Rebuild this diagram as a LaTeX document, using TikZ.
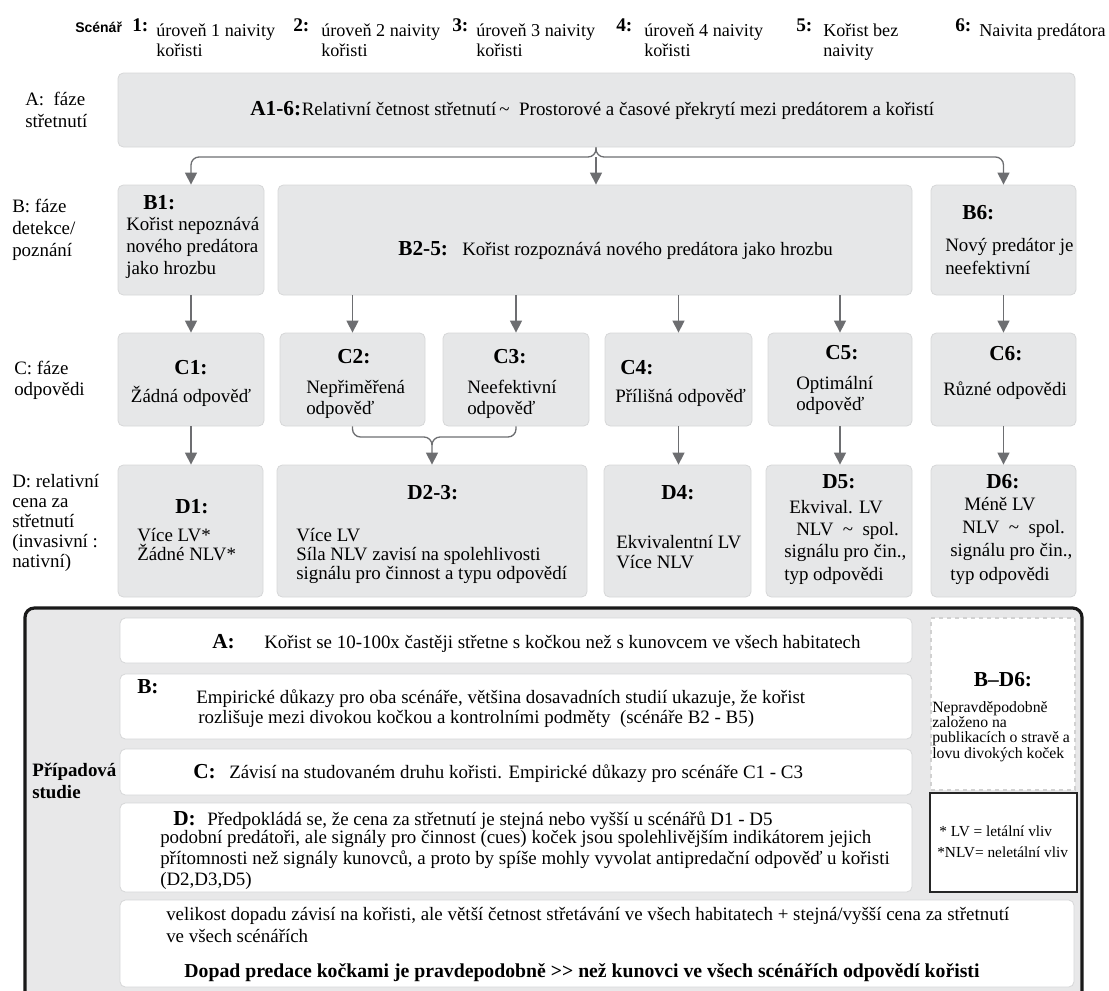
\documentclass[tikz,border=0pt]{standalone}
\usepackage{fontspec}
\setmainfont{Liberation Serif}
\newfontfamily\scensans{Liberation Sans}
\usetikzlibrary{arrows.meta}
\usetikzlibrary{fit}
\definecolor{boxgray}{HTML}{E6E7E8}
\definecolor{boxline}{HTML}{D6D7D8}
\definecolor{arrgray}{HTML}{6D6E71}
\definecolor{panelgray}{HTML}{E8E8E9}
\tikzset{phase/.style = {fill=boxgray, draw=boxline, line width=0.6pt, rounded corners=4, inner sep=0}}
\tikzset{casebox/.style = {fill=white, draw=boxline, line width=0.6pt, rounded corners=4, inner sep=0}}
\tikzset{panel/.style = {fill=panelgray, draw=black!90, line width=2.4pt, rounded corners=7, inner sep=0}}
\tikzset{arr/.style = {draw=arrgray, line width=1pt, -{Triangle[width=9pt, length=9pt]}}}
\tikzset{txt/.style = {anchor=base west, inner sep=0, align=left, font=\fontsize{14.2}{16.5}\selectfont}}
\tikzset{head/.style = {anchor=base west, inner sep=0, align=left, font=\fontsize{13.6}{15}\selectfont}}
\tikzset{tag/.style = {anchor=base west, inner sep=0, font=\fontsize{16}{18}\selectfont\bfseries}}
\tikzset{num/.style = {anchor=base west, inner sep=0, font=\fontsize{14.5}{16}\selectfont\bfseries}}

\begin{document}
\begin{tikzpicture}[x=0.75pt, y=-0.75pt]
      \useasboundingbox (0,0) rectangle (1109,990);

      \node [anchor=base west, inner sep=0, font=\scensans\bfseries\fontsize{10.5}{12}\selectfont] (scen) at (75,32) {Scénář};
      \node [num] (n1) at (132,31) {1:};
      \node [head] (s1) at (156,56) {úroveň 1 naivity\\kořisti};
      \node [num] (n2) at (293,31) {2:};
      \node [head] (s2) at (321,56) {úroveň 2 naivity\\kořisti};
      \node [num] (n3) at (452,31) {3:};
      \node [head] (s3) at (476,56) {úroveň 3 naivity\\kořisti};
      \node [num] (n4) at (616,31) {4:};
      \node [head] (s4) at (644,56) {úroveň 4 naivity\\kořisti};
      \node [num] (n5) at (796,31) {5:};
      \node [head] (s5) at (823,56) {Kořist bez\\naivity};
      \node [num] (n6) at (955,31) {6:};
      \node [head] (s6) at (979,36) {Naivita predátora};

      \node [txt] (lA) at (25,127) {A:\ \ fáze\\střetnutí};
      \node [txt] (lB) at (12,256) {B: fáze\\detekce/\\poznání};
      \node [txt, font=\fontsize{14.2}{15.75}\selectfont] (lC) at (14,395) {C: fáze\\odpovědi};
      \node [txt, font=\fontsize{14.2}{15}\selectfont] (lD) at (12,567) {D: relativní\\cena za\\střetnutí\\(invasivní :\\nativní)};

      \node [phase, fit={(118,73) (1075,147)}] (A) {};
      \node [phase, fit={(118,185) (264,295)}] (B1) {};
      \node [phase, fit={(278,185) (912,295)}] (B25) {};
      \node [phase, fit={(931,185) (1076,295)}] (B6) {};
      \node [phase, fit={(118,333) (264,426)}] (C1) {};
      \node [phase, fit={(280,333) (425,426)}] (C2) {};
      \node [phase, fit={(443,333) (589,426)}] (C3) {};
      \node [phase, fit={(605,333) (752,426)}] (C4) {};
      \node [phase, fit={(768,333) (912,426)}] (C5) {};
      \node [phase, fit={(931,333) (1076,426)}] (C6) {};
      \node [phase, fit={(118,465) (263,597)}] (D1) {};
      \node [phase, fit={(277,465) (587,597)}] (D23) {};
      \node [phase, fit={(604,465) (751,597)}] (D4) {};
      \node [phase, fit={(766,465) (912,597)}] (D5) {};
      \node [phase, fit={(931,465) (1076,597)}] (D6) {};

      \node [tag] (tA0) at (250,115) {A1-6:};
      \node [txt] (tA) at (tA0.base east) {Relativní četnost střetnutí\,\textasciitilde\ \ Prostorové a časové překrytí mezi predátorem a kořistí};

      \node [tag] (tB10) at (143,209) {B1:};
      \node [txt, font=\fontsize{14.2}{16.2}\selectfont] (tB1) at (126,274) {Kořist nepoznává\\nového predátora\\jako hrozbu};
      \node [tag] (tB250) at (398,255) {B2-5:};
      \node [txt] (tB25) at (462,255) {Kořist rozpoznává nového predátora jako hrozbu};
      \node [tag] (tB60) at (962,219) {B6:};
      \node [txt, font=\fontsize{14.2}{17.25}\selectfont] (tB6) at (945,274) {Nový predátor je\\neefektivní};

      \node [tag, anchor=base] (tC10) at (191,374) {C1:};
      \node [txt, anchor=base] (tC1) at (191,402) {Žádná odpověď};
      \node [tag] (tC20) at (337,363) {C2:};
      \node [txt, font=\fontsize{14.2}{15.75}\selectfont] (tC2) at (306,414) {Nepřiměřená\\odpověď};
      \node [tag] (tC30) at (493,363) {C3:};
      \node [txt, font=\fontsize{14.2}{15.75}\selectfont] (tC3) at (467,414) {Neefektivní\\odpověď};
      \node [tag] (tC40) at (620,374) {C4:};
      \node [txt] (tC4) at (615,402) {Přílišná odpověď};
      \node [tag] (tC50) at (825,359) {C5:};
      \node [txt, font=\fontsize{14.2}{15.75}\selectfont] (tC5) at (796,410) {Optimální\\odpověď};
      \node [tag] (tC60) at (989,360) {C6:};
      \node [txt] (tC6) at (943,395) {Různé odpovědi};

      \node [tag] (tD10) at (175,513) {D1:};
      \node [txt, font=\fontsize{14.2}{14.2}\selectfont] (tD1) at (137,560) {Více LV*\\Žádné NLV*};
      \node [tag] (tD230) at (407,499) {D2-3:};
      \node [txt, font=\fontsize{14.2}{14}\selectfont] (tD23) at (296,579) {Více LV\\Síla NLV zavisí na spolehlivosti\\signálu pro činnost a typu odpovědí};
      \node [tag] (tD40) at (661,499) {D4:};
      \node [txt, font=\fontsize{14.2}{15}\selectfont] (tD4) at (616,568) {Ekvivalentní LV\\Více NLV};
      \node [tag] (tD50) at (822,488) {D5:};
      \node [txt, font=\fontsize{14.2}{16.7}\selectfont] (tD5) at (784,580) {\hspace*{3.75pt}Ekvival. LV\\\hspace*{9pt}NLV\ \ \textasciitilde\ \ spol.\\signálu pro čin.,\\typ odpovědi};
      \node [tag] (tD60) at (986,488) {D6:};
      \node [txt, font=\fontsize{14.2}{17.5}\selectfont] (tD6) at (950,580) {\hspace*{10.5pt}Méně LV\\\hspace*{9pt}NLV\ \ \textasciitilde\ \ spol.\\signálu pro čin.,\\typ odpovědi};

      \coordinate (Ahub) at (596,157);
      \coordinate (Chub) at (432,437);
      \draw [arr, rounded corners=6] (A.south -| Ahub) -- (Ahub) -| (B1.north);
      \draw [arr, rounded corners=6] (A.south -| Ahub) -- (Ahub) -| (B6.north);
      \draw [arr] (Ahub) -- (Ahub |- B25.north);
      \draw [arr] (B1.south) -- (C1.north);
      \draw [arr] (B25.south -| C2.north) -- (C2.north);
      \draw [arr] (B25.south -| C3.north) -- (C3.north);
      \draw [arr] (B25.south -| C4.north) -- (C4.north);
      \draw [arr] (B25.south -| C5.north) -- (C5.north);
      \draw [arr] (B6.south) -- (C6.north);
      \draw [arr] (C1.south) -- (C1.south |- D1.north);
      \draw [arr, rounded corners=6] (C2.south) |- (Chub) -- (Chub |- D23.north);
      \draw [arr, -, rounded corners=6] (C3.south) |- (Chub) -- ++(0,8);
      \draw [arr] (C4.south) -- (C4.south |- D4.north);
      \draw [arr] (C5.south) -- (C5.south |- D5.north);
      \draw [arr] (C6.south) -- (C6.south |- D6.north);

      \node [panel, fit={(25,608) (1082,1004)}] (P) {};
      \node [casebox, fit={(120,618) (912,663)}] (cA) {};
      \node [casebox, fit={(120,674) (912,739)}] (cB) {};
      \node [casebox, fit={(120,749) (912,795)}] (cC) {};
      \node [casebox, fit={(120,803) (912,892)}] (cD) {};
      \node [casebox, fit={(120,900) (1074,987)}] (cE) {};
      \node [fill=white, draw=black!18, dashed, line width=0.8pt, inner sep=0, fit={(931,618) (1075,790)}] (cBD) {};
      \node [fill=white, draw=black!85, line width=0.8pt, inner sep=0, fit={(930,793) (1077,892)}] (key) {};

      \node [txt, font=\fontsize{14.2}{16}\selectfont\bfseries] (tcase) at (32,798) {Případová\\studie};

      \node [tag] (tcA0) at (212,648) {A:};
      \node [txt] (tcA) at (264,648) {Kořist se 10-100x častěji střetne s kočkou než s kunovcem ve všech habitatech};
      \node [tag] (tcB0) at (137,693) {B:};
      \node [txt, font=\fontsize{14.2}{15}\selectfont] (tcB) at (196,723) {Empirické důkazy pro oba scénáře, většina dosavadních studií ukazuje, že kořist\\\hspace*{1.5pt}rozlišuje mezi divokou kočkou a kontrolními podměty\ \ (scénáře B2 - B5)};
      \node [tag] (tcC0) at (193,778) {C:};
      \node [txt] (tcC) at (229,778) {Závisí na studovaném druhu kořisti. Empirické důkazy pro scénáře C1 - C3};
      \node [tag] (tcD0) at (173,825) {D:};
      \node [txt] (tcD1) at (207,825) {Předpokládá se, že cena za střetnutí je stejná nebo vyšší u scénářů D1 - D5};
      \node [txt, font=\fontsize{14.2}{15.75}\selectfont] (tcD2) at (160,885) {podobní predátoři, ale signály pro činnost (cues) koček jsou spolehlivějším indikátorem jejich\\přítomnosti než signály kunovců, a proto by spíše mohly vyvolat antipredační odpověď u kořisti\\(D2,D3,D5)};
      \node [txt] (tcE) at (166,942) {velikost dopadu závisí na kořisti, ale větší četnost střetávání ve všech habitatech + stejná/vyšší cena za střetnutí\\ve všech scénářích};
      \node [txt, anchor=base, font=\fontsize{14.8}{16}\selectfont\bfseries] (tcE2) at (582,977) {Dopad predace kočkami je pravdepodobně >{}> než kunovci ve všech scénářích odpovědí kořisti};

      \node [tag, anchor=base] (tBD0) at (1003,686) {B–D6:};
      \node [txt, font=\fontsize{11.8}{11.3}\selectfont] (tBD) at (932,758) {Nepravděpodobně\\založeno na\\publikacích o stravě a\\lovu divokých koček};
      \node [txt, font=\fontsize{11.5}{15.5}\selectfont] (tkey) at (939,857) {* LV = letální vliv\\\hspace*{-1.5pt}*NLV= neletální vliv};
    \end{tikzpicture}
\end{document}
